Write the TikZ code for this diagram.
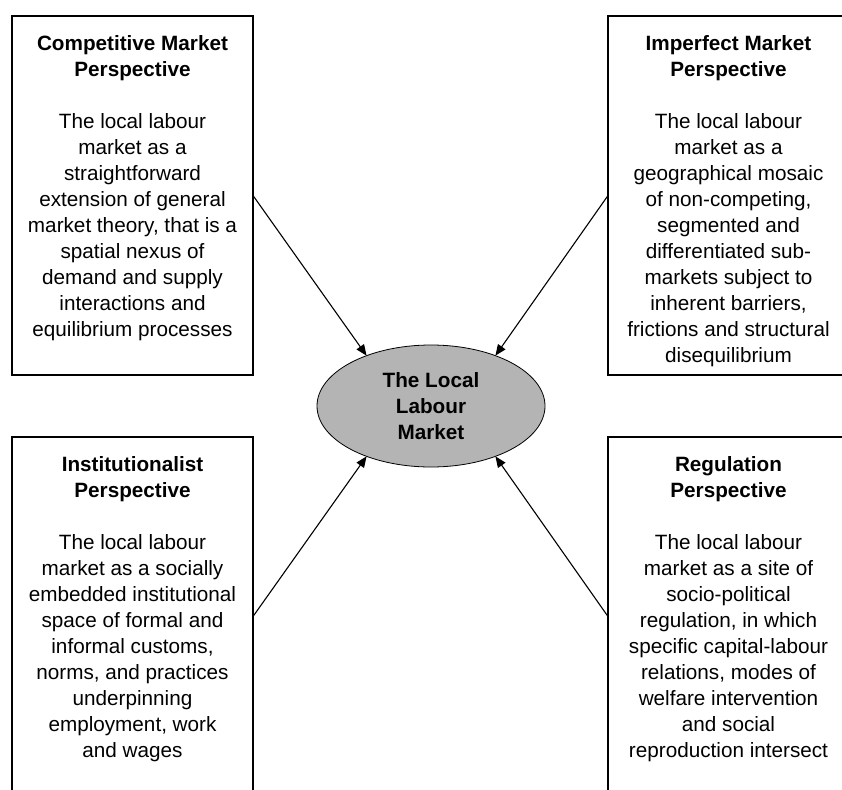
\documentclass[tikz,border=0pt]{standalone}
\usepackage{fontspec}
\setmainfont{Liberation Sans}
\usetikzlibrary{shapes.geometric,arrows.meta}
\definecolor{ellgray}{RGB}{180,180,180}

\begin{document}
\begin{tikzpicture}[x=1pt,y=-1pt,inner sep=0pt,outer sep=0pt,line width=1.1pt,
>={Triangle[length=11pt,width=9pt]},
panel/.style={draw,rectangle,anchor=north west,minimum width=241pt,minimum height=359pt,line width=1.3pt},
paneltext/.style={anchor=north,align=center,font=\fontsize{20.7}{26}\selectfont,yshift=-19pt}]

\useasboundingbox (0,0) rectangle (842,789);
\clip (0,0) rectangle (842,789);

\draw (12,16) node[panel] (comp) {};
\draw (608,16) node[panel] (imp) {};
\draw (12,437) node[panel] (inst) {};
\draw (608,437) node[panel] (reg) {};

\draw (comp.north) node[paneltext] (comptext) {\textbf{Competitive Market}\\\textbf{Perspective}\\[26pt]
The local labour\\market as a\\straightforward\\extension of general\\market theory, that is a\\spatial nexus of\\demand and supply\\interactions and\\equilibrium processes};
\draw (imp.north) node[paneltext] (imptext) {\textbf{Imperfect Market}\\\textbf{Perspective}\\[26pt]
The local labour\\market as a\\geographical mosaic\\of non-competing,\\segmented and\\differentiated sub-\\markets subject to\\inherent barriers,\\frictions and structural\\disequilibrium};
\draw (inst.north) node[paneltext] (insttext) {\textbf{Institutionalist}\\\textbf{Perspective}\\[26pt]
The local labour\\market as a socially\\embedded institutional\\space of formal and\\informal customs,\\norms, and practices\\underpinning\\employment, work\\and wages};
\draw (reg.north) node[paneltext] (regtext) {\textbf{Regulation}\\\textbf{Perspective}\\[26pt]
The local labour\\market as a site of\\socio-political\\regulation, in which\\specific capital-labour\\relations, modes of\\welfare intervention\\and social\\reproduction intersect};

\draw (431,406) node[ellipse,draw,fill=ellgray,minimum width=228pt,minimum height=122pt,line width=0.8pt,
  align=center,font=\bfseries\fontsize{20.7}{26}\selectfont] (llm) {The Local\\Labour\\Market};

\draw[->] (comp.east) -- (llm.142);
\draw[->] (imp.west) -- (llm.38);
\draw[->] (inst.east) -- (llm.218);
\draw[->] (reg.west) -- (llm.322);

\end{tikzpicture}
\end{document}
